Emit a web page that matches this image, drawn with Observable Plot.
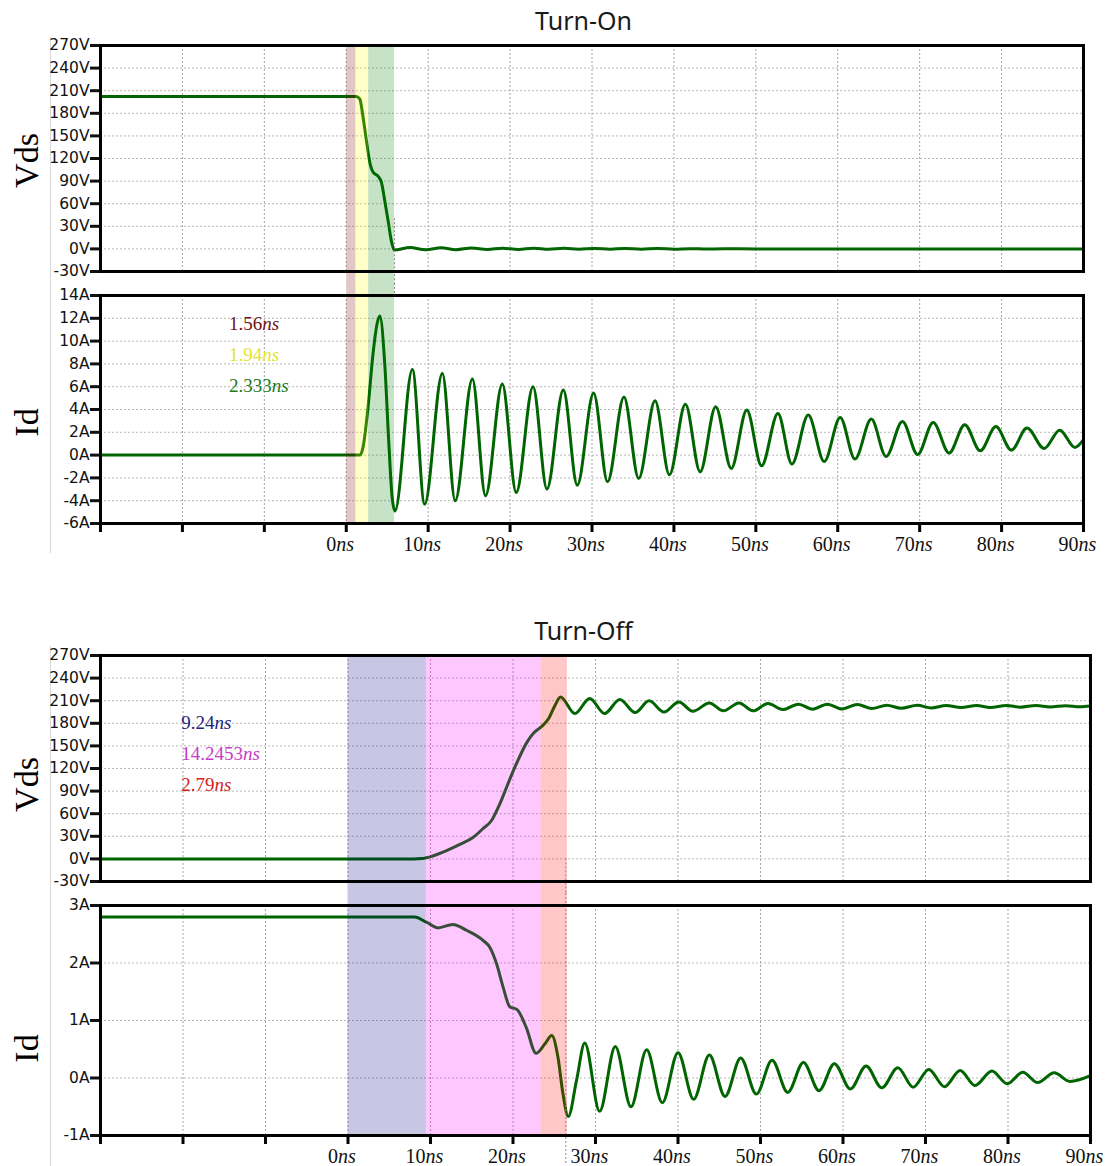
<!DOCTYPE html>
<html><head><meta charset="utf-8">
<script src="https://cdn.jsdelivr.net/npm/d3@7"></script>
<script src="https://cdn.jsdelivr.net/npm/@observablehq/plot@0.6"></script>
<style>
body{margin:0;background:#fff;}
#root{position:relative;width:1107px;height:1166px;overflow:hidden;background:#fff;}
.title{position:absolute;left:60px;width:1047px;text-align:center;font-family:"Noto Sans",sans-serif;font-size:25px;line-height:30px;color:#1a1a1a;}
.panel{position:absolute;left:0;}
.panel svg{overflow:visible;}
.edge{position:absolute;left:50px;width:1px;background:#d8d8d8;}
</style></head><body><div id="root"></div>
<script>
// ---------- axis ticks ----------
const xTicks = [-30, -20, -10, 0, 10, 20, 30, 40, 50, 60, 70, 80, 90];
const vdsTicks = [-30, 0, 30, 60, 90, 120, 150, 180, 210, 240, 270];
const idOnTicks = [-6, -4, -2, 0, 2, 4, 6, 8, 10, 12, 14];
const idOffTicks = [-1, 0, 1, 2, 3];

// ---------- Turn-On Vds (ns, V) ----------
const onVdsT = [-30, 1.2, 1.65, 2.05, 2.46, 2.87, 3.27, 3.88, 4.29, 4.7, 5.1, 5.5, 5.85, 7.8, 9.7, 11.6, 13.4, 15.3, 17.2, 19.1, 21, 22.9, 24.7, 26.6, 28.4, 30.3, 32.2, 34, 36, 38, 40, 42, 44, 46, 50, 90];
const onVdsV = [202.3, 202.3, 199, 175, 144, 115, 102, 96.5, 88.5, 64, 38, 11, -1.5, 1.8, -1.2, 1.5, -1, 1.2, -0.8, 1, -0.7, 0.8, -0.6, 0.7, -0.5, 0.6, -0.4, 0.5, -0.3, 0.4, -0.3, 0.3, -0.2, 0.2, 0, 0];

// ---------- Turn-On Id (ns, A) ----------
const onIdT = [-30, 1.7, 2.05, 2.66, 3.27, 3.76, 4.1, 4.7, 5.2, 5.6, 5.95, 8.07, 9.57, 11.73, 13.3, 15.4, 17.0, 19.05, 20.75, 22.8, 24.5, 26.5, 28.2, 30.2, 31.9, 33.9, 35.7, 37.7, 39.45, 41.4, 43.2, 45.1, 47.0, 48.9, 50.7, 52.7, 54.4, 56.4, 58.35, 60.3, 62.1, 64.1, 65.9, 67.9, 69.75, 71.65, 73.6, 75.5, 77.4, 79.3, 81.2, 83.1, 85.2, 87.1, 88.95, 90];
const onIdA = [0, 0, 0.7, 4.2, 8.9, 11.5, 12.2, 8.0, 1.0, -3.7, -4.9, 7.5, -4.3, 7.15, -4.0, 6.67, -3.57, 6.23, -3.28, 5.99, -2.98, 5.70, -2.63, 5.44, -2.34, 5.09, -2.05, 4.76, -1.73, 4.47, -1.46, 4.24, -1.17, 3.95, -0.94, 3.65, -0.79, 3.51, -0.56, 3.30, -0.35, 3.16, -0.12, 2.95, 0.05, 2.86, 0.18, 2.67, 0.38, 2.5, 0.44, 2.37, 0.58, 2.19, 0.67, 1.35];

// ---------- Turn-Off Vds (ns, V) ----------
const offVdsT = [-30, 8.0, 9.0, 9.5, 11.5, 13.5, 15.1, 16.35, 17.4, 18.4, 19.4, 20.4, 21.7, 22.5, 23.5, 24.3, 25.1, 25.75, 27.5, 29.3, 31.1, 32.95, 34.8, 36.5, 38.3, 40.1, 41.8, 43.8, 45.5, 47.4, 49.1, 50.9, 52.7, 54.6, 56.3, 58.1, 59.9, 61.75, 63.5, 65.3, 67.05, 69.0, 70.7, 72.5, 74.3, 76.2, 77.85, 79.8, 81.5, 83.4, 85.1, 87.0, 88.7, 90];
const offVdsV = [0, 0, 0.5, 1.5, 9, 19, 28, 40, 51, 73, 100, 126, 155, 167, 176, 186, 204, 215, 193, 213, 193, 211.6, 194.3, 209.8, 195, 208.4, 196, 207, 196.5, 207, 196.5, 206.3, 198.3, 205.4, 198.7, 205.4, 199, 205, 199.6, 204, 200, 204, 200.4, 203.6, 201, 203.6, 201, 203.6, 201.4, 203.6, 201.8, 203.4, 202, 203];

// ---------- Turn-Off Id (ns, A) ----------
const offIdT = [-30, 8.07, 9.5, 10.9, 12.7, 14.35, 16.4, 17.2, 18.0, 18.8, 19.6, 20.5, 21.6, 22.8, 23.85, 24.7, 25.45, 26.05, 26.7, 27.7, 28.7, 30.5, 32.4, 34.3, 36.2, 38.1, 40.0, 41.9, 43.8, 45.7, 47.6, 49.5, 51.4, 53.3, 55.2, 57.1, 58.95, 60.9, 62.8, 64.7, 66.65, 68.5, 70.4, 72.3, 74.2, 76.0, 78.05, 79.9, 81.8, 83.6, 85.6, 87.5, 90];
const offIdA = [2.80, 2.80, 2.71, 2.61, 2.67, 2.57, 2.39, 2.27, 1.99, 1.58, 1.24, 1.19, 0.88, 0.43, 0.59, 0.74, 0.36, -0.27, -0.67, -0.04, 0.61, -0.58, 0.55, -0.50, 0.49, -0.43, 0.44, -0.37, 0.40, -0.32, 0.35, -0.28, 0.31, -0.25, 0.27, -0.22, 0.25, -0.19, 0.21, -0.17, 0.18, -0.16, 0.15, -0.15, 0.13, -0.13, 0.12, -0.10, 0.10, -0.08, 0.09, -0.06, 0.04];

// ---------- shaded intervals ----------
const onRegionStart = [0.05, 1.18, 2.73];
const onRegionEnd = [1.18, 2.73, 5.9];
const onRegionColor = ["#800000", "#ffff00", "#008000"];
const offRegionStart = [0, 9.5, 23.4];
const offRegionEnd = [9.5, 23.4, 26.6];
const offRegionColor = ["#000080", "#ff00ff", "#ff0000"];

// ---------- annotations ----------
const onLabels = ["1.56ns", "1.94ns", "2.333ns"];
const onLabelColor = ["#6e1212", "#e4e430", "#1c7a1c"];
const onLabelT = [-14.3, -14.3, -14.3];
const onLabelA = [11.5, 8.8, 6.1];
const offLabels = ["9.24ns", "14.2453ns", "2.79ns"];
const offLabelColor = ["#23237a", "#c63cc6", "#d42222"];
const offLabelT = [-20.2, -20.2, -20.2];
const offLabelV = [181, 140, 98.6];

// cursor lines
const onCursor = [5.9];
const offCursor = [26.4];

const zip2 = (T, Y) => T.map((t, i) => ({t, v: Y[i]}));
const regions = (a, b, c) => a.map((s, i) => ({t1: s, t2: b[i], color: c[i]}));
const labels = (L, C, T, Y) => L.map((l, i) => ({label: l, color: C[i], t: T[i], v: Y[i]}));

const root = document.getElementById("root");
const SVGNS = "http://www.w3.org/2000/svg";

function italicNs(svg) {
  svg.querySelectorAll("text").forEach(t => {
    const m = t.textContent.match(/^([\d.]+)ns$/);
    if (m) {
      t.textContent = "";
      const a = document.createElementNS(SVGNS, "tspan"); a.textContent = m[1];
      const b = document.createElementNS(SVGNS, "tspan"); b.textContent = "ns"; b.setAttribute("font-style", "italic");
      t.append(a, b);
    }
  });
}

function panel(o) {
  const height = o.marginTop + o.frameH + o.marginBottom;
  const marks = [
    Plot.gridX(xTicks.slice(1, -1), {stroke: "#a4a4a4", strokeOpacity: 1, strokeDasharray: "2,2"}),
    Plot.gridY(o.yTicks.slice(1, -1), {stroke: "#b8b8b8", strokeOpacity: 1, strokeDasharray: "2,2"}),
    Plot.lineY(o.series, {x: "t", y: "v", stroke: "#006400", strokeWidth: 3, curve: "monotone-x"}),
    Plot.rect(o.regions, {x1: "t1", x2: "t2", fill: "color", fillOpacity: 0.22, insetTop: -o.extTop, insetBottom: -o.extBottom}),
    ...o.cursors,
    Plot.axisY(o.yTicks, {tickFormat: d => d + o.unit, tickSize: 10, tickPadding: 1, strokeWidth: 3, fontSize: 15.5, fontFamily: "DejaVu Sans", color: "#111", label: null}),
    Plot.text([o.label], {text: d => d, frameAnchor: "left", textAnchor: "middle", dx: -73, dy: o.labelDy, rotate: -90, fontSize: 34, fontFamily: "Liberation Serif", fill: "#000"}),
    Plot.frame({stroke: "#000", strokeWidth: 3})
  ];
  if (o.annots) marks.push(Plot.text(o.annots, {x: "t", y: "v", text: "label", fill: "color", textAnchor: "start", fontSize: 19, fontFamily: "Liberation Serif"}));
  if (o.xAxis) {
    marks.push(Plot.axisX(xTicks, {tickFormat: () => "", tickSize: 9, strokeWidth: 3, color: "#000", label: null}));
    marks.push(Plot.axisX(xTicks, {tickFormat: d => d >= 0 ? d + "ns" : "", tickSize: 0, tickPadding: 13, dx: -6, fontSize: 20, fontFamily: "Liberation Serif", color: "#111", label: null}));
  }
  const svg = Plot.plot({
    width: 1107, height,
    marginLeft: 100, marginRight: o.marginRight, marginTop: o.marginTop, marginBottom: o.marginBottom,
    x: {domain: [-30, 90], axis: null},
    y: {domain: o.yDomain, axis: null},
    marks
  });
  italicNs(svg);
  const div = document.createElement("div");
  div.className = "panel"; div.style.top = o.top + "px";
  div.append(svg);
  root.append(div);
}

function title(text, top) {
  const d = document.createElement("div");
  d.className = "title"; d.style.top = top + "px"; d.textContent = text;
  root.append(d);
}
function edge(top, h) {
  const d = document.createElement("div");
  d.className = "edge"; d.style.top = top + "px"; d.style.height = h + "px";
  root.append(d);
}
edge(37, 516); edge(646, 520);

title("Turn-On", 5);
panel({top: 35, marginTop: 10, frameH: 226, marginBottom: 12, marginRight: 24, labelDy: 2,
  series: zip2(onVdsT, onVdsV), yDomain: [-30, 270], yTicks: vdsTicks, unit: "V", label: "Vds",
  regions: regions(onRegionStart, onRegionEnd, onRegionColor), extTop: 0, extBottom: 12,
  cursors: [Plot.ruleX(onCursor, {y1: 40, y2: -30, insetBottom: -12, stroke: "#888", strokeDasharray: "2,2"})]});
panel({top: 283, marginTop: 12, frameH: 228, marginBottom: 45, marginRight: 24, labelDy: 13,
  series: zip2(onIdT, onIdA), yDomain: [-6, 14], yTicks: idOnTicks, unit: "A", label: "Id",
  regions: regions(onRegionStart, onRegionEnd, onRegionColor), extTop: 12, extBottom: 0,
  cursors: [Plot.ruleX(onCursor, {y1: 14, y2: 14, insetTop: -12, stroke: "#888", strokeDasharray: "2,2"})],
  annots: labels(onLabels, onLabelColor, onLabelT, onLabelA), xAxis: true});

title("Turn-Off", 615);
panel({top: 645, marginTop: 10, frameH: 226, marginBottom: 12, marginRight: 17, labelDy: 16,
  series: zip2(offVdsT, offVdsV), yDomain: [-30, 270], yTicks: vdsTicks, unit: "V", label: "Vds",
  regions: regions(offRegionStart, offRegionEnd, offRegionColor), extTop: 0, extBottom: 12,
  cursors: [Plot.ruleX(offCursor, {y1: 0, y2: -30, insetBottom: -12, stroke: "#888", strokeDasharray: "2,2"})],
  annots: labels(offLabels, offLabelColor, offLabelT, offLabelV)});
panel({top: 893, marginTop: 12, frameH: 230, marginBottom: 31, marginRight: 17, labelDy: 28,
  series: zip2(offIdT, offIdA), yDomain: [-1, 3], yTicks: idOffTicks, unit: "A", label: "Id",
  regions: regions(offRegionStart, offRegionEnd, offRegionColor), extTop: 12, extBottom: 0,
  cursors: [Plot.ruleX(offCursor, {y1: 3, y2: -1, insetTop: -12, insetBottom: -28, stroke: "#888", strokeDasharray: "2,2"})],
  xAxis: true});
</script>
</body></html>
